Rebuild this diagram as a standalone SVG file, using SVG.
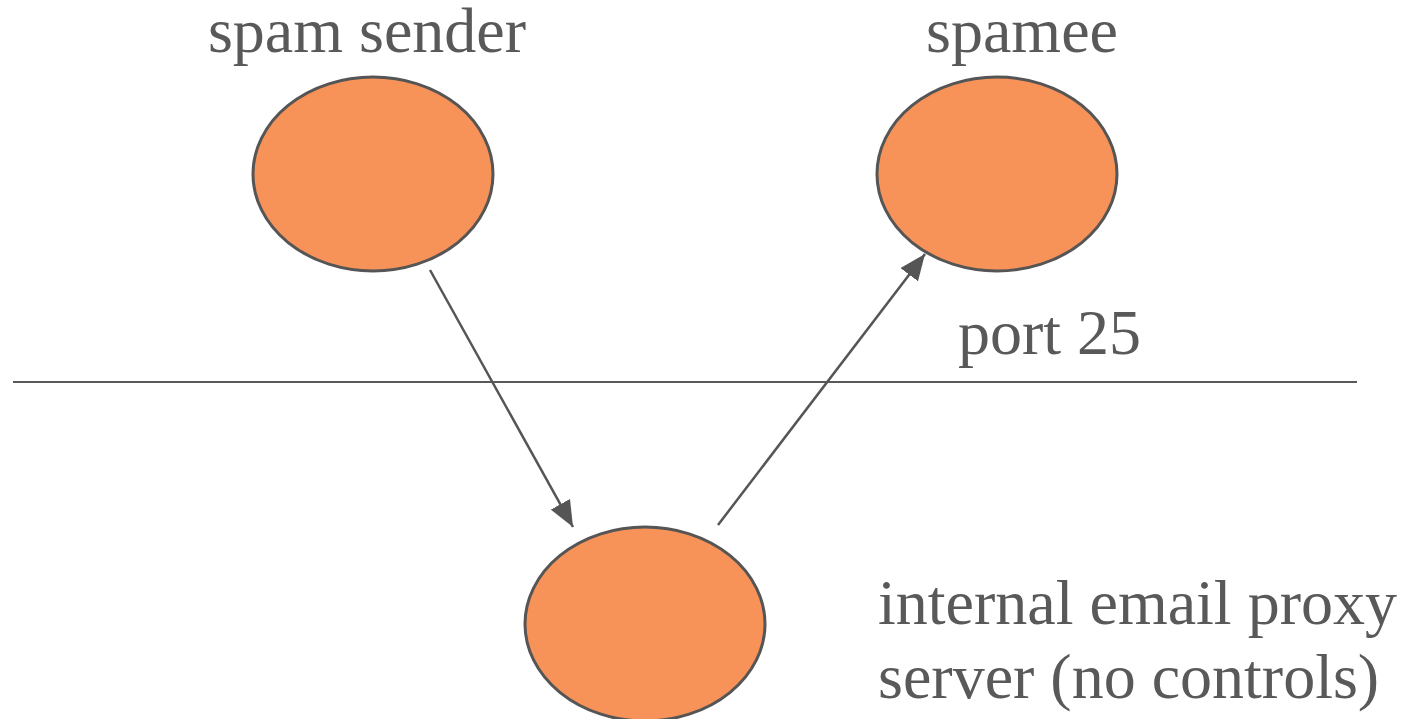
<svg xmlns="http://www.w3.org/2000/svg" width="1401" height="719" viewBox="0 0 1401 719">
  <style>
    .node { fill: #F79259; stroke: #555555; stroke-width: 3; }
    .label { font-family: "Liberation Serif", "Times New Roman", serif; font-size: 64px; fill: #595959; }
    .edge { stroke: #555555; stroke-width: 2.5; fill: none; }
    .divider { stroke: #595959; stroke-width: 2; }
  </style>
  <defs>
    <marker id="head" viewBox="0 0 26 22" refX="26" refY="11" markerWidth="26" markerHeight="22" markerUnits="userSpaceOnUse" orient="auto">
      <path d="M0,0 L26,11 L0,22 z" fill="#555555"/>
    </marker>
  </defs>

  <!-- boundary line for port 25 -->
  <line class="divider" x1="13" y1="382" x2="1357" y2="382"/>
  <text class="label" x="958" y="354">port 25</text>

  <g id="spam-sender">
    <ellipse class="node" cx="373" cy="174" rx="120" ry="97"/>
    <text class="label" x="367" y="52" text-anchor="middle">spam sender</text>
  </g>

  <g id="spamee">
    <ellipse class="node" cx="997" cy="174" rx="120" ry="97"/>
    <text class="label" x="1022" y="52" text-anchor="middle">spamee</text>
  </g>

  <g id="proxy">
    <ellipse class="node" cx="645" cy="624" rx="120" ry="97"/>
    <text class="label" x="878" y="624">internal email proxy</text>
    <text class="label" x="878" y="698">server (no controls)</text>
  </g>

  <g id="connectors">
    <line class="edge" x1="430" y1="270" x2="573" y2="527" marker-end="url(#head)"/>
    <line class="edge" x1="718" y1="525" x2="925" y2="254" marker-end="url(#head)"/>
  </g>
</svg>
